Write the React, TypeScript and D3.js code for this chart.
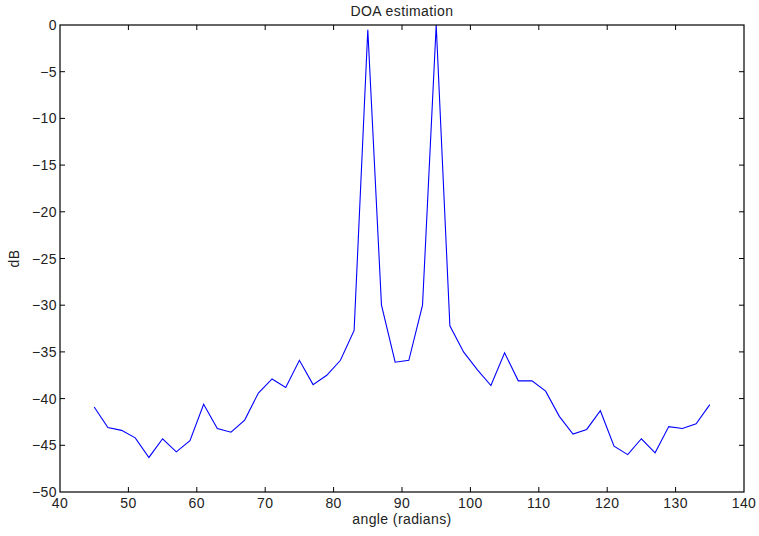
import React from "react";
import * as d3 from "d3";

const angles = [
  45, 47, 49, 51, 53, 55, 57, 59, 61, 63, 65, 67, 69, 71, 73, 75, 77, 79, 81, 83, 85, 87, 89,
  91, 93, 95, 97, 99, 101, 103, 105, 107, 109, 111, 113, 115, 117, 119, 121, 123, 125, 127,
  129, 131, 133, 135,
];
const dbValues = [
  -40.9, -43.1, -43.4, -44.2, -46.3, -44.3, -45.7, -44.5, -40.6, -43.2, -43.6, -42.3, -39.4,
  -37.9, -38.8, -35.9, -38.5, -37.5, -35.9, -32.7, -0.5, -30.0, -36.1, -35.9, -30.0, 0,
  -32.2, -35.0, -36.9, -38.6, -35.1, -38.1, -38.1, -39.2, -41.9, -43.8, -43.3, -41.3, -45.1,
  -46.0, -44.3, -45.8, -43.0, -43.2, -42.7, -40.65,
];
const xTicks = [40, 50, 60, 70, 80, 90, 100, 110, 120, 130, 140];
const yTicks = [0, -5, -10, -15, -20, -25, -30, -35, -40, -45, -50];

const Chart = () => {
  const svg = React.useRef<SVGSVGElement>(null);
  const width = 759;
  const height = 536;
  const margin = { top: 25, right: 15, bottom: 44, left: 60 };

  React.useEffect(() => {
    drawChart(svg);
  }, [svg]);

  function drawChart(svgRef: React.RefObject<SVGSVGElement>) {
    const root = d3.select(svgRef.current);
    root.selectAll("*").remove();

    const x = d3.scaleLinear().domain([40, 140]).range([margin.left, width - margin.right]);
    const y = d3.scaleLinear().domain([-50, 0]).range([height - margin.bottom, margin.top]);
    const fmt = (v: number) => String(v).replace("-", "\u2212");
    const font = "'Liberation Sans', Arial, Helvetica, sans-serif";

    // data line
    const line = d3
      .line<number>()
      .x((_, i) => x(angles[i]))
      .y((d) => y(d));
    root
      .append("path")
      .datum(dbValues)
      .attr("d", line)
      .attr("fill", "none")
      .attr("stroke", "#0000ff")
      .attr("stroke-width", 1.1);

    // box
    const x0 = x(40), x1 = x(140), y0 = y(-50), y1 = y(0);
    root
      .append("rect")
      .attr("x", x0)
      .attr("y", y1)
      .attr("width", x1 - x0)
      .attr("height", y0 - y1)
      .attr("fill", "none")
      .attr("stroke", "#000")
      .attr("stroke-width", 1.2);

    const tickLen = 5;
    const g = root.append("g").attr("stroke", "#000").attr("stroke-width", 1);
    xTicks.slice(1, -1).forEach((t) => {
      g.append("line").attr("x1", x(t)).attr("x2", x(t)).attr("y1", y0).attr("y2", y0 - tickLen);
      g.append("line").attr("x1", x(t)).attr("x2", x(t)).attr("y1", y1).attr("y2", y1 + tickLen);
    });
    yTicks.slice(1, -1).forEach((t) => {
      g.append("line").attr("x1", x0).attr("x2", x0 + tickLen).attr("y1", y(t)).attr("y2", y(t));
      g.append("line").attr("x1", x1).attr("x2", x1 - tickLen).attr("y1", y(t)).attr("y2", y(t));
    });

    const txt = (sel: d3.Selection<SVGTextElement, any, any, any>) =>
      sel
        .style("font-family", font)
        .style("font-size", "14px")
        .style("letter-spacing", "0.4px")
        .attr("fill", "#222");

    // tick labels
    root
      .selectAll(".xt")
      .data(xTicks)
      .enter()
      .append("text")
      .attr("x", (d) => x(d))
      .attr("y", y0 + 16)
      .attr("text-anchor", "middle")
      .call(txt)
      .text((d) => fmt(d));
    root
      .selectAll(".yt")
      .data(yTicks)
      .enter()
      .append("text")
      .attr("x", x0 - 3)
      .attr("y", (d) => y(d) + 5)
      .attr("text-anchor", "end")
      .call(txt)
      .text((d) => fmt(d));

    // title and axis labels
    root
      .append("text")
      .attr("x", (x0 + x1) / 2)
      .attr("y", 16)
      .attr("text-anchor", "middle")
      .call(txt)
      .text("DOA estimation");
    root
      .append("text")
      .attr("x", (x0 + x1) / 2)
      .attr("y", 524)
      .attr("text-anchor", "middle")
      .call(txt)
      .text("angle (radians)");
    root
      .append("text")
      .attr("transform", `translate(19, ${(y0 + y1) / 2}) rotate(-90)`)
      .attr("text-anchor", "middle")
      .call(txt)
      .text("dB");
  }

  return <svg width={width} height={height} ref={svg} style={{ display: "block" }} />;
};

export default function App() {
  return (
    <div style={{ position: "absolute", left: 0, top: 0, background: "#fff" }}>
      <Chart />
    </div>
  );
}
